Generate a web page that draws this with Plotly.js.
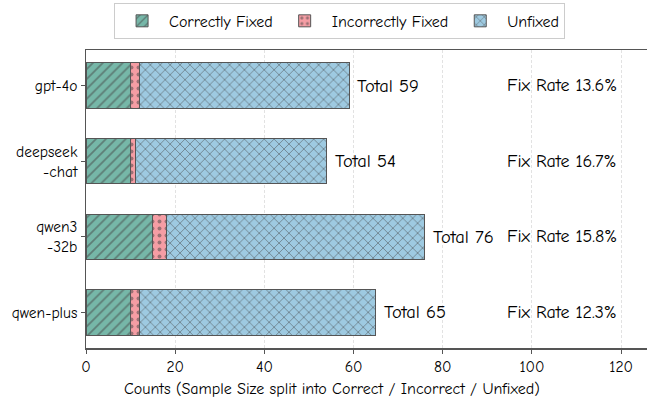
<!DOCTYPE html>
<html>
<head>
<meta charset="utf-8">
<script src="https://cdn.plot.ly/plotly-3.0.1.min.js"></script>
<style>html,body{margin:0;padding:0;background:#fff;}#chart{width:647px;height:401px;}</style>
</head>
<body>
<div id="chart"></div>
<script>
const models = ["gpt-4o", "deepseek<br>-chat", "qwen3<br>-32b", "qwen-plus"];
const correctFixed = [10, 10, 15, 10];
const incorrectFixed = [2, 1, 3, 2];
const unfixed = [47, 43, 58, 53];
const totals = [59, 54, 76, 65];
const fixRateLabels = ["Fix Rate 13.6%", "Fix Rate 16.7%", "Fix Rate 15.8%", "Fix Rate 12.3%"];
const fixRateX = 94;
const xTicks = [0, 20, 40, 60, 80, 100, 120];
const xTitle = "Counts (Sample Size split into Correct / Incorrect / Unfixed)";

const FONT = "'Comic Sans MS', 'Comic Neue', 'Noto Sans', sans-serif";
const edge = {color: "#555555", width: 1};

function barTrace(name, vals, color, shape) {
  return {
    type: "bar", orientation: "h", name: name,
    y: models, x: vals,
    width: 0.6,
    marker: {
      color: color, line: edge,
      pattern: {shape: shape, fgcolor: "#444444", bgcolor: color, size: 7, solidity: 0.25, fillmode: "overlay"}
    },
    hoverinfo: "skip"
  };
}

const traces = [
  barTrace("Correctly Fixed", correctFixed, "#76b7a8", "/"),
  barTrace("Incorrectly Fixed", incorrectFixed, "#f59da4", "."),
  barTrace("Unfixed", unfixed, "#9ecae1", "x")
];

const annotations = [];
models.forEach((m, i) => {
  annotations.push({x: totals[i] + 1.4, y: m, xref: "x", yref: "y", text: "Total " + totals[i],
    showarrow: false, xanchor: "left", yanchor: "middle", font: {family: FONT, size: 18.5, color: "#000"}});
  annotations.push({x: fixRateX, y: m, xref: "x", yref: "y", text: fixRateLabels[i],
    showarrow: false, xanchor: "left", yanchor: "middle", font: {family: FONT, size: 18, color: "#000"}});
});
annotations.push({x: 0.4385, y: -0.102, xref: "paper", yref: "paper", text: xTitle,
  showarrow: false, xanchor: "center", yanchor: "top", font: {family: FONT, size: 16, color: "#000"}});

const layout = {
  width: 647, height: 401,
  margin: {l: 86, r: 0, t: 50, b: 53},
  barmode: "stack",
  paper_bgcolor: "#fff", plot_bgcolor: "#fff",
  font: {family: FONT, size: 15, color: "#000"},
  xaxis: {
    range: [0, 125.8], tickvals: xTicks, ticktext: xTicks.map(String),
    showgrid: true, gridcolor: "#e2e2e2", griddash: "3px,2px", gridwidth: 1,
    zeroline: false, showline: true, linecolor: "#555", linewidth: 1.5, mirror: true,
    ticks: "outside", ticklen: 4, tickcolor: "#555",
    tickfont: {family: FONT, size: 15.5}
  },
  yaxis: {
    categoryorder: "array", categoryarray: models,
    autorange: false, range: [3.47, -0.47],
    showgrid: false, zeroline: false, showline: true, linecolor: "#555", linewidth: 1.5, mirror: false,
    ticks: "outside", ticklen: 4, tickcolor: "#555",
    tickfont: {family: FONT, size: 15.5}
  },
  legend: {
    orientation: "h", x: 0.452, xanchor: "center", y: 1.158, yanchor: "top",
    bordercolor: "#cccccc", borderwidth: 1, bgcolor: "#fff",
    font: {family: FONT, size: 16}, traceorder: "normal", itemwidth: 44
  },
  annotations: annotations,
  showlegend: true
};

Plotly.newPlot("chart", traces, layout, {displayModeBar: false, staticPlot: true});
</script>
</body>
</html>
